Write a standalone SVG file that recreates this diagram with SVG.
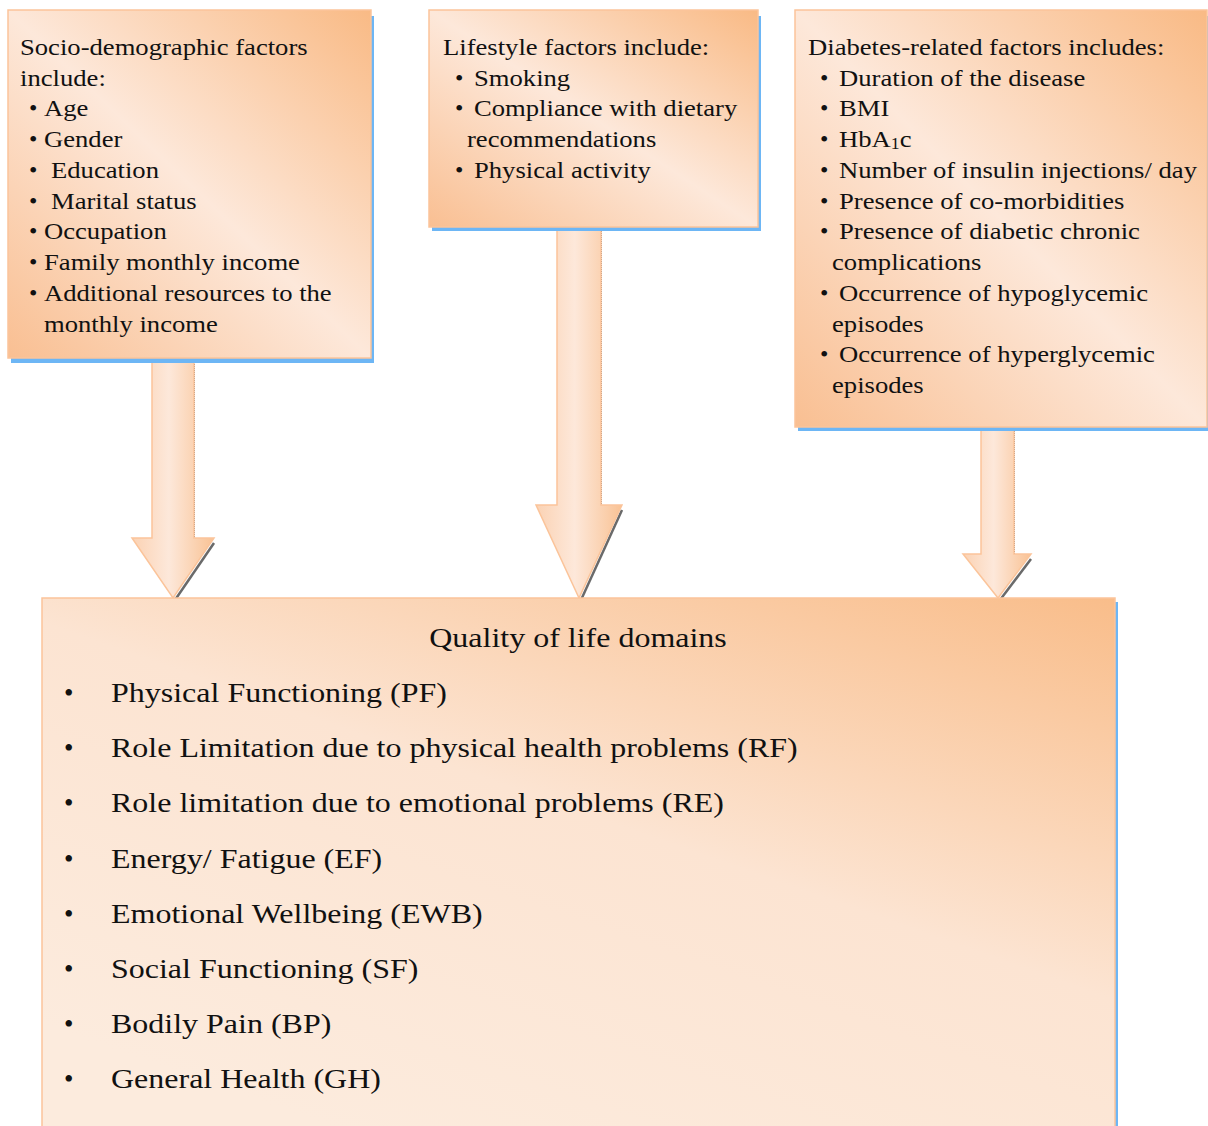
<svg xmlns="http://www.w3.org/2000/svg" width="1208" height="1126" viewBox="0 0 1208 1126">
<defs>
<linearGradient id="gBox" x1="1" y1="0" x2="0" y2="1">
<stop offset="0" stop-color="#f9ba85"/>
<stop offset="0.5" stop-color="#fde8da"/>
<stop offset="1" stop-color="#f9bf92"/>
</linearGradient>
<linearGradient id="gBig" x1="1" y1="0" x2="0.3" y2="1">
<stop offset="0" stop-color="#f9bd8a"/>
<stop offset="0.5" stop-color="#fce4d2"/>
<stop offset="1" stop-color="#fcebdd"/>
</linearGradient>
<linearGradient id="gArrow" x1="0" y1="0" x2="1" y2="0">
<stop offset="0" stop-color="#fbd2b3"/>
<stop offset="0.45" stop-color="#fde8da"/>
<stop offset="1" stop-color="#f9c294"/>
</linearGradient>
</defs>
<style>
.box{stroke:#fbc49a;stroke-width:1.5}
.shadow{fill:#6db6f5}
.arrow{fill:url(#gArrow);stroke:#fbc49a;stroke-width:1.5}
.dot{stroke:#555;stroke-width:1;stroke-dasharray:1 1;fill:none}
.edge{stroke:#6a6a6a;stroke-width:2.5;fill:none}
text{font-family:"Liberation Serif","Times New Roman",serif;fill:#111}
.t{font-size:24px}
.b{font-size:27px}
</style>
<g id="connectors">
<g id="arrow1">
<line class="dot" x1="194.5" y1="360" x2="194.5" y2="538"/>
<line class="edge" x1="214" y1="543" x2="175" y2="600"/>
<path class="arrow" d="M152 358 H194 V538 H214 L173 598 L132 538 H152 Z"/>
</g>
<g id="arrow2">
<line class="dot" x1="601.5" y1="229" x2="601.5" y2="505"/>
<line class="edge" x1="622" y1="510" x2="581" y2="600"/>
<path class="arrow" d="M557 227 H601 V505 H622 L579 598 L536 505 H557 Z"/>
</g>
<g id="arrow3">
<line class="dot" x1="1014.5" y1="429" x2="1014.5" y2="554"/>
<line class="edge" x1="1031" y1="559" x2="1000" y2="600"/>
<path class="arrow" d="M981 427 H1014 V554 H1031 L998 598 L963 554 H981 Z"/>
</g>
</g>
<g id="node-socio">
<rect class="shadow" x="11" y="16" width="363" height="347"/>
<rect class="box" x="8" y="10" width="363" height="348" fill="url(#gBox)"/>
<text class="t" transform="translate(20,55) scale(1.11,1)">Socio-demographic factors</text>
<text class="t" transform="translate(20,85.7) scale(1.11,1)">include:</text>
<text class="t" x="29" y="116.4">•</text><text class="t" transform="translate(44,116.4) scale(1.11,1)">Age</text>
<text class="t" x="29" y="147">•</text><text class="t" transform="translate(44,147) scale(1.11,1)">Gender</text>
<text class="t" x="29" y="177.8">•</text><text class="t" transform="translate(51,177.8) scale(1.11,1)">Education</text>
<text class="t" x="29" y="208.5">•</text><text class="t" transform="translate(51,208.5) scale(1.11,1)">Marital status</text>
<text class="t" x="29" y="239">•</text><text class="t" transform="translate(44,239) scale(1.11,1)">Occupation</text>
<text class="t" x="29" y="270">•</text><text class="t" transform="translate(44,270) scale(1.11,1)">Family monthly income</text>
<text class="t" x="29" y="300.8">•</text><text class="t" transform="translate(44,300.8) scale(1.11,1)">Additional resources to the</text>
<text class="t" transform="translate(44,331.5) scale(1.11,1)">monthly income</text>
</g>
<g id="node-lifestyle">
<rect class="shadow" x="432" y="16" width="329" height="215"/>
<rect class="box" x="429" y="10" width="329" height="217" fill="url(#gBox)"/>
<text class="t" transform="translate(443,55) scale(1.11,1)">Lifestyle factors include:</text>
<text class="t" x="455" y="85.7">•</text><text class="t" transform="translate(474,85.7) scale(1.11,1)">Smoking</text>
<text class="t" x="455" y="116.4">•</text><text class="t" transform="translate(474,116.4) scale(1.11,1)">Compliance with dietary</text>
<text class="t" transform="translate(467,147) scale(1.11,1)">recommendations</text>
<text class="t" x="455" y="177.8">•</text><text class="t" transform="translate(474,177.8) scale(1.11,1)">Physical activity</text>
</g>
<g id="node-diabetes">
<rect class="shadow" x="798" y="16" width="412" height="415"/>
<rect class="box" x="795" y="10" width="412" height="417" fill="url(#gBox)"/>
<text class="t" transform="translate(808,55) scale(1.11,1)">Diabetes-related factors includes:</text>
<text class="t" x="820" y="85.7">•</text><text class="t" transform="translate(839,85.7) scale(1.11,1)">Duration of the disease</text>
<text class="t" x="820" y="116.4">•</text><text class="t" transform="translate(839,116.4) scale(1.11,1)">BMI</text>
<text class="t" x="820" y="147">•</text><text class="t" transform="translate(839,147) scale(1.11,1)">HbA<tspan font-size="16" dy="2">1</tspan><tspan dy="-2">c</tspan></text>
<text class="t" x="820" y="177.8">•</text><text class="t" transform="translate(839,177.8) scale(1.11,1)">Number of insulin injections/ day</text>
<text class="t" x="820" y="208.5">•</text><text class="t" transform="translate(839,208.5) scale(1.11,1)">Presence of co-morbidities</text>
<text class="t" x="820" y="239">•</text><text class="t" transform="translate(839,239) scale(1.11,1)">Presence of diabetic chronic</text>
<text class="t" transform="translate(832,270) scale(1.11,1)">complications</text>
<text class="t" x="820" y="300.8">•</text><text class="t" transform="translate(839,300.8) scale(1.11,1)">Occurrence of hypoglycemic</text>
<text class="t" transform="translate(832,331.5) scale(1.11,1)">episodes</text>
<text class="t" x="820" y="362">•</text><text class="t" transform="translate(839,362) scale(1.11,1)">Occurrence of hyperglycemic</text>
<text class="t" transform="translate(832,392.5) scale(1.11,1)">episodes</text>
</g>
<g id="node-qol">
<rect class="shadow" x="45" y="602" width="1073" height="530"/>
<rect class="box" x="42" y="598" width="1073" height="540" fill="url(#gBig)"/>
<text class="b" text-anchor="middle" transform="translate(578,647) scale(1.185,1)">Quality of life domains</text>
<text class="b" x="64" y="702">•</text><text class="b" transform="translate(111,702) scale(1.185,1)">Physical Functioning (PF)</text>
<text class="b" x="64" y="757">•</text><text class="b" transform="translate(111,757) scale(1.185,1)">Role Limitation due to physical health problems (RF)</text>
<text class="b" x="64" y="812">•</text><text class="b" transform="translate(111,812) scale(1.185,1)">Role limitation due to emotional problems (RE)</text>
<text class="b" x="64" y="868">•</text><text class="b" transform="translate(111,868) scale(1.185,1)">Energy/ Fatigue (EF)</text>
<text class="b" x="64" y="923">•</text><text class="b" transform="translate(111,923) scale(1.185,1)">Emotional Wellbeing (EWB)</text>
<text class="b" x="64" y="978">•</text><text class="b" transform="translate(111,978) scale(1.185,1)">Social Functioning (SF)</text>
<text class="b" x="64" y="1033">•</text><text class="b" transform="translate(111,1033) scale(1.185,1)">Bodily Pain (BP)</text>
<text class="b" x="64" y="1088">•</text><text class="b" transform="translate(111,1088) scale(1.185,1)">General Health (GH)</text>
</g>
</svg>
